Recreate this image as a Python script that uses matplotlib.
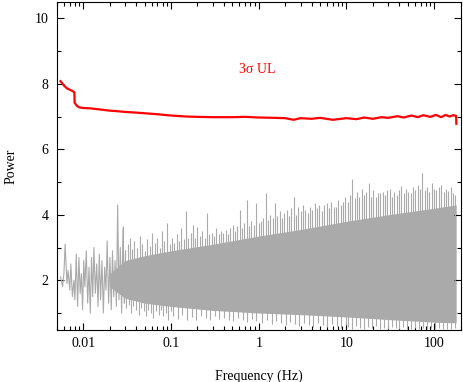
import matplotlib
matplotlib.use('Agg')
from matplotlib import pyplot as plt
from matplotlib.ticker import LogLocator, MultipleLocator, FixedLocator, FixedFormatter

# 3 sigma upper limit curve
freq_ul = [0.0055, 0.006, 0.0065, 0.007, 0.0075, 0.0079, 0.00795, 0.0085, 0.009, 0.01,
           0.012, 0.015, 0.02, 0.025, 0.03, 0.04, 0.05, 0.07, 0.1, 0.15,
           0.2, 0.3, 0.5, 0.7, 1.0, 1.5, 2.0, 2.5, 3.0, 4.0,
           5.0, 7.0, 10, 13, 16, 20, 25, 30, 38, 45,
           55, 65, 75, 90, 105, 120, 135, 150, 165, 178, 179]
ul = [8.08, 7.95, 7.86, 7.82, 7.78, 7.74, 7.42, 7.32, 7.28, 7.26,
      7.25, 7.22, 7.18, 7.16, 7.14, 7.12, 7.10, 7.07, 7.03, 7.00,
      6.99, 6.98, 6.98, 6.99, 6.97, 6.96, 6.95, 6.90, 6.95, 6.93,
      6.96, 6.90, 6.95, 6.92, 6.97, 6.93, 6.98, 6.96, 7.01, 6.97,
      7.03, 6.98, 7.04, 6.99, 7.05, 6.98, 7.05, 7.00, 7.04, 7.02, 6.78]

# low frequency periodogram (individual lines visible)
freq_lo = [0.0055, 0.0058, 0.006, 0.0062, 0.0065, 0.0067, 0.007, 0.0072, 0.0075, 0.0078,
           0.008, 0.0083, 0.0086, 0.0089, 0.0092, 0.0095, 0.0098, 0.0101, 0.0104, 0.0108,
           0.0112, 0.0116, 0.012, 0.0124, 0.0128, 0.0132, 0.0137, 0.0142, 0.0147, 0.0152,
           0.0157, 0.0163, 0.0169, 0.0175, 0.0181, 0.0187, 0.0194, 0.0201, 0.0208, 0.0215,
           0.0222, 0.023, 0.0238, 0.0246, 0.0255, 0.0264, 0.0273, 0.0283, 0.0293, 0.0303]
power_lo = [2.1, 1.8, 2.2, 3.1, 1.9, 2.3, 1.7, 2.5, 1.5, 2.0,
            1.4, 2.8, 1.2, 2.7, 1.6, 2.2, 1.1, 2.6, 1.8, 2.9,
            1.3, 2.4, 1.0, 2.7, 1.5, 3.0, 1.6, 2.5, 1.2, 2.8,
            1.4, 2.6, 1.0, 2.4, 1.7, 3.2, 1.3, 2.7, 1.1, 2.9,
            1.5, 2.6, 1.2, 4.3, 1.4, 3.0, 1.0, 3.6, 1.3, 2.9]

# dense part: core band
freq_core = [0.02, 0.03, 0.05, 0.1, 0.3, 1.0, 3.0, 10, 30, 100, 178]
core_top = [2.2, 2.6, 2.75, 2.9, 3.1, 3.35, 3.55, 3.8, 4.0, 4.2, 4.3]
core_bot = [1.8, 1.45, 1.3, 1.2, 1.08, 1.0, 0.95, 0.88, 0.8, 0.72, 0.7]

# upward spikes
spike_f = [0.028, 0.030, 0.032, 0.034, 0.036, 0.038, 0.041, 0.044, 0.047, 0.050,
           0.053, 0.057, 0.061, 0.065, 0.069, 0.074, 0.079, 0.084, 0.090, 0.096,
           0.102, 0.109, 0.116, 0.123, 0.131, 0.139, 0.148, 0.157, 0.167, 0.177,
           0.188, 0.2, 0.213, 0.227, 0.241, 0.256, 0.272, 0.29, 0.308, 0.328,
           0.349, 0.371, 0.395, 0.42, 0.447, 0.475, 0.505, 0.537, 0.571, 0.607,
           0.646, 0.687, 0.73, 0.777, 0.826, 0.879, 0.935, 0.995,
           1.06, 1.13, 1.2, 1.27, 1.35, 1.44, 1.53, 1.63, 1.73, 1.84,
           1.96, 2.08, 2.21, 2.35, 2.5, 2.66, 2.83, 3.01, 3.2, 3.4,
           3.62, 3.85, 4.09, 4.35, 4.63, 4.92, 5.23, 5.56, 5.92, 6.29,
           6.69, 7.12, 7.57, 8.05, 8.56, 9.1, 9.68,
           10.3, 10.9, 11.6, 12.4, 13.2, 14.0, 14.9, 15.8, 16.8, 17.9,
           19.0, 20.2, 21.5, 22.9, 24.3, 25.9, 27.5, 29.3, 31.1, 33.1,
           35.2, 37.4, 39.8, 42.3, 45.0, 47.8, 50.9, 54.1, 57.5, 61.2,
           65.0, 69.2, 73.5, 78.2, 83.2, 88.4, 94.0, 100, 106, 113,
           120, 128, 136, 145, 154, 164, 175]
spike_hi = [3.65, 2.9, 3.1, 3.3, 2.95, 3.2, 3.0, 3.35, 3.1, 2.9,
            3.25, 3.05, 3.43, 3.15, 3.3, 3.0, 3.5, 3.2, 3.74, 3.1,
            3.3, 3.15, 3.4, 3.2, 3.6, 3.25, 4.1, 3.3, 3.45, 3.68,
            3.3, 3.63, 3.35, 3.5, 3.3, 4.05, 3.4, 3.45, 3.35, 3.6,
            3.4, 3.5, 3.45, 3.55, 3.4, 3.6, 3.7, 3.5, 3.65, 4.14,
            3.6, 3.75, 4.44, 3.65, 3.8, 3.7, 4.35, 3.75,
            3.8, 3.9, 4.65, 3.85, 4.0, 3.9, 4.35, 3.95, 4.1, 3.9,
            4.05, 4.15, 3.95, 4.2, 4.53, 4.0, 4.25, 4.1, 4.3, 4.14,
            4.05, 4.25, 4.15, 4.35, 4.2, 4.29, 4.1, 4.3, 4.35, 4.2,
            4.4, 4.25, 4.23, 4.45, 4.3, 4.4, 4.53,
            4.4, 4.6, 5.08, 4.5, 4.7, 4.55, 4.8, 4.6, 4.7, 4.96,
            4.55, 4.75, 4.53, 4.65, 4.66, 4.7, 4.6, 4.75, 4.8, 4.53,
            4.7, 4.6, 4.75, 4.87, 4.65, 4.8, 4.7, 4.65, 4.85, 4.75,
            4.9, 4.8, 5.27, 4.75, 4.85, 4.7, 4.96, 4.8, 4.75, 4.84,
            4.9, 4.7, 4.8, 4.74, 4.85, 4.65, 4.6]

# downward dips
dip_f = [0.029, 0.031, 0.033, 0.035, 0.037, 0.040, 0.043, 0.046, 0.049, 0.052,
         0.055, 0.059, 0.063, 0.067, 0.072, 0.077, 0.082, 0.087, 0.093, 0.099,
         0.106, 0.120, 0.135, 0.152, 0.172, 0.194, 0.219, 0.247, 0.279, 0.315,
         0.356, 0.402, 0.454, 0.513, 0.579, 0.654, 0.739, 0.834, 0.942,
         1.1, 1.24, 1.4, 1.58, 1.79, 2.02, 2.28, 2.58, 2.91, 3.29,
         3.72, 4.2, 4.75, 5.36, 6.06, 6.84, 7.73, 8.73, 9.86,
         10.5, 11.6, 12.9, 14.3, 15.9, 17.6, 19.5, 21.6, 24.0, 26.6,
         29.5, 32.7, 36.3, 40.2, 44.6, 49.5, 54.9, 60.9, 67.5, 74.9,
         83.0, 92.1, 102, 113, 125, 139, 154, 171]
dip_lo = [1.3, 1.15, 1.25, 1.0, 1.2, 1.1, 0.95, 1.15, 1.05, 0.9,
          1.1, 1.0, 0.85, 1.05, 0.95, 1.1, 0.9, 1.0, 0.8, 1.05,
          0.9, 0.82, 0.95, 0.78, 0.88, 0.8, 0.92, 0.85, 0.78, 0.9,
          0.82, 0.86, 0.8, 0.75, 0.85, 0.8, 0.72, 0.82, 0.76,
          0.7, 0.78, 0.65, 0.75, 0.68, 0.62, 0.72, 0.66, 0.6, 0.7,
          0.64, 0.58, 0.68, 0.62, 0.56, 0.65, 0.6, 0.55, 0.62,
          0.58, 0.52, 0.6, 0.55, 0.5, 0.57, 0.53, 0.6, 0.52, 0.55,
          0.5, 0.58, 0.53, 0.51, 0.56, 0.52, 0.5, 0.55, 0.51, 0.54,
          0.5, 0.53, 0.51, 0.55, 0.5, 0.52, 0.51, 0.53]

plt.rcParams['font.family'] = ['Liberation Serif', 'DejaVu Serif']

fig = plt.figure(figsize=(4.63, 3.82), dpi=100)
ax = fig.add_axes([0.123, 0.136, 0.873, 0.859])

gray = '#aaaaaa'
ax.plot(freq_lo, power_lo, color=gray, lw=0.8)
ax.fill_between(freq_core, core_bot, core_top, color=gray, lw=0)
ax.vlines(spike_f, 2.0, spike_hi, color=gray, lw=0.8)
ax.vlines(dip_f, dip_lo, 2.0, color=gray, lw=0.8)
ax.plot(freq_ul, ul, color='#ff0000', lw=1.6)

ax.text(0.95, 8.43, '3σ UL', color='#ff0000', fontsize=10, ha='center', va='center')

ax.set_xscale('log')
ax.set_xlim(0.005, 203)
ax.set_ylim(0.48, 10.5)

ax.xaxis.set_major_locator(FixedLocator([0.01, 0.1, 1, 10, 100]))
ax.xaxis.set_major_formatter(FixedFormatter(['0.01', '0.1', '1', '10', '100']))
ax.xaxis.set_minor_locator(LogLocator(base=10, subs=range(2, 10)))
ax.yaxis.set_major_locator(MultipleLocator(2))
ax.yaxis.set_minor_locator(MultipleLocator(1))

ax.tick_params(which='both', direction='in', top=True, right=True, labelsize=10, width=0.8)
ax.tick_params(which='major', length=5)
ax.tick_params(which='minor', length=3)
ax.tick_params(axis='x', pad=5)
ax.tick_params(axis='y', pad=6)
for s in ax.spines.values():
    s.set_linewidth(0.8)

ax.set_xlabel('Frequency (Hz)', fontsize=10, labelpad=14)
fig.text(11 / 463, 0.565, 'Power', rotation=90, ha='center', va='center', fontsize=10)

fig.savefig('out.png', dpi=100)
